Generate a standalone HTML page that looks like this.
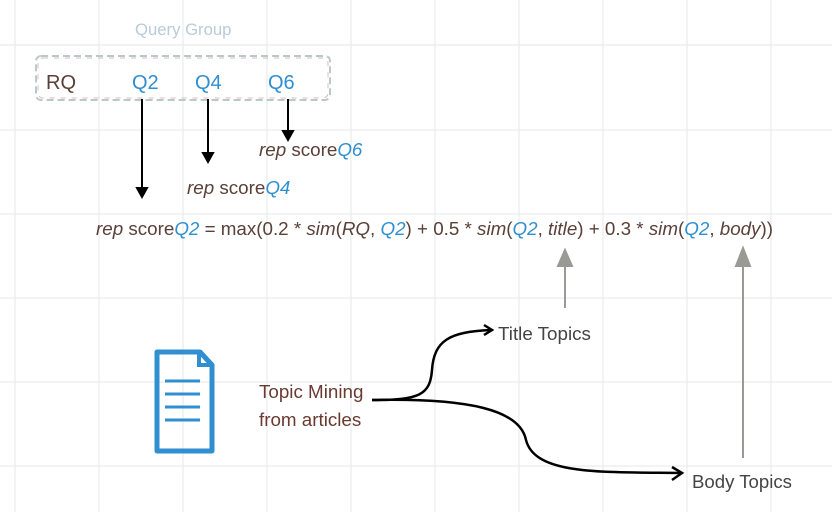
<!DOCTYPE html>
<html><head><meta charset="utf-8"><style>
body{margin:0;width:832px;height:512px;overflow:hidden;background:#fff;font-family:"Liberation Sans",sans-serif;}
svg{position:absolute;left:0;top:0}
.t{position:absolute;white-space:nowrap;color:#5a4038;line-height:1;}
.b{color:#2f8fd0}
i{font-style:italic}
</style></head><body>
<svg width="832" height="512">
<g stroke="#e6e9ea" stroke-width="1">
<line x1="15" y1="0" x2="15" y2="512"/><line x1="99" y1="0" x2="99" y2="512"/><line x1="183" y1="0" x2="183" y2="512"/><line x1="267" y1="0" x2="267" y2="512"/><line x1="351" y1="0" x2="351" y2="512"/><line x1="435" y1="0" x2="435" y2="512"/><line x1="519" y1="0" x2="519" y2="512"/><line x1="603" y1="0" x2="603" y2="512"/><line x1="687" y1="0" x2="687" y2="512"/><line x1="771" y1="0" x2="771" y2="512"/>
<line x1="0" y1="45" x2="832" y2="45"/><line x1="0" y1="130" x2="832" y2="130"/><line x1="0" y1="214" x2="832" y2="214"/><line x1="0" y1="298" x2="832" y2="298"/><line x1="0" y1="382" x2="832" y2="382"/><line x1="0" y1="466" x2="832" y2="466"/>
</g>
<rect x="36" y="56" width="294" height="44" rx="5" fill="none" stroke="#b8c8cf" stroke-width="2" stroke-dasharray="7 4"/>
<rect x="38" y="58" width="290" height="40" rx="5" fill="none" stroke="#e0b8b0" stroke-width="1" stroke-dasharray="5 6"/>
<g stroke="#000" stroke-width="2" fill="#000">
<line x1="142" y1="99" x2="142" y2="190"/><path d="M137 188 L142 197 L147 188Z"/>
<line x1="208" y1="99" x2="208" y2="155"/><path d="M203 153 L208 162 L213 153Z"/>
<line x1="288" y1="99" x2="288" y2="133"/><path d="M283 131 L288 140 L293 131Z"/>
</g>
<g stroke="#9a9a94" stroke-width="2" fill="#9a9a94">
<line x1="565" y1="308" x2="565" y2="262"/><path d="M558 266 L565 250 L572 266Z"/>
<line x1="743" y1="458" x2="743" y2="262"/><path d="M736 266 L743 248 L750 266Z"/>
</g>
<g stroke="#000" stroke-width="2.5" fill="none">
<path d="M372 400 C420 400 430 395 432 370 C434 340 450 332 490 330"/>
<path d="M484 325 L492 330 L484 335"/>
<path d="M372 400 C470 398 520 410 526 440 C535 475 600 472 680 473"/>
<path d="M672 467 L682 473 L672 480"/>
</g>
<g stroke="#2f8fd0" stroke-width="5" fill="none">
<path d="M157 352 L200 352 L212 365 L212 451 L157 451Z" stroke-linejoin="round"/>
<path d="M199 352 L199 365 L212 365" stroke-width="4"/>
<line x1="165" y1="381" x2="200" y2="381" stroke-width="3"/>
<line x1="165" y1="394" x2="200" y2="394" stroke-width="3"/>
<line x1="165" y1="407" x2="200" y2="407" stroke-width="3"/>
<line x1="165" y1="420" x2="200" y2="420" stroke-width="3"/>
</g>
</svg>
<div class="t" style="left:135px;top:22px;font-size:16.7px;color:#b9ccd6">Query Group</div>
<div class="t" style="left:46px;top:73px;font-size:20px">RQ</div>
<div class="t b" style="left:132px;top:73px;font-size:20px">Q2</div>
<div class="t b" style="left:195px;top:73px;font-size:20px">Q4</div>
<div class="t b" style="left:268px;top:73px;font-size:20px">Q6</div>
<div class="t" style="left:259px;top:141px;font-size:18.8px"><i>rep</i> score<i class="b">Q6</i></div>
<div class="t" style="left:187px;top:179px;font-size:18.8px"><i>rep</i> score<i class="b">Q4</i></div>
<div class="t" style="left:96px;top:220px;font-size:18.8px"><i>rep</i> score<i class="b">Q2</i> = max(0.2 * <i>sim</i>(<i>RQ</i>, <i class="b">Q2</i>) + 0.5 * <i>sim</i>(<i class="b">Q2</i>, <i>title</i>) + 0.3 * <i>sim</i>(<i class="b">Q2</i>, <i>body</i>))</div>
<div class="t" style="left:498px;top:325px;font-size:18.8px;color:#444">Title Topics</div>
<div class="t" style="left:259px;top:378px;font-size:18.8px;line-height:28px;color:#6a3a30">Topic Mining<br>from articles</div>
<div class="t" style="left:692px;top:473px;font-size:18.6px;color:#444">Body Topics</div>
</body></html>
